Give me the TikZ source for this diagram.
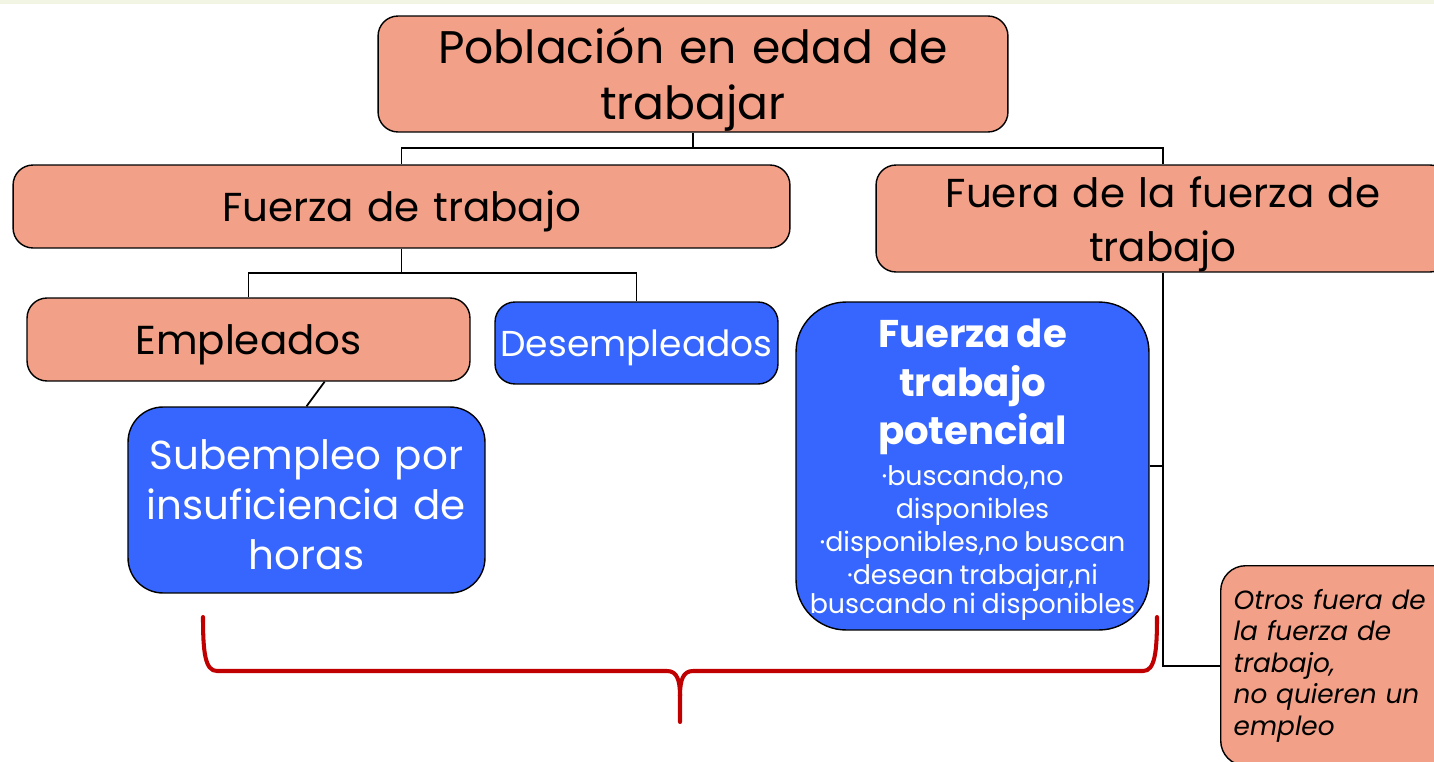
\documentclass[tikz,border=0pt]{standalone}
\usepackage{fontspec}
\setmainfont{Poppins}
\usepackage{tikz}
\definecolor{salmon}{HTML}{F2A087}
\definecolor{azul}{HTML}{3666FE}
\definecolor{rojo}{HTML}{C00000}
\definecolor{franja}{HTML}{F2F4E4}

\begin{document}
\begin{tikzpicture}[x=0.02cm,y=-0.02cm,
  caja/.style={draw=black, line width=0.8pt, rounded corners=0.4cm, inner sep=0pt, align=center},
  cajasalmon/.style={caja, fill=salmon, text=black},
  cajaazul/.style={caja, fill=azul, text=white},
  bajar/.style={execute at end node={\endgraf\vspace{-#1}}},
  linea/.style={line width=1pt},
  llave/.style={draw=rojo, line width=2.3pt, line cap=round}]

% Frame of the picture
\clip (0,0) rectangle (1434,761);
\fill[franja] (0,0) rectangle (1434,4);

% Top box
\node[cajasalmon, bajar=6pt, minimum width=12.6cm, minimum height=2.32cm, text width=12.4cm,
  font=\fontsize{26}{31.5}\selectfont] (pob) at (693,74) {Población en edad de\\trabajar};

% Second level
\node[cajasalmon, bajar=6.5pt, minimum width=15.54cm, minimum height=1.66cm, text width=15cm,
  font=\fontsize{23}{30}\selectfont] (fdt) at (401.5,206.5) {Fuerza de trabajo};
\node[cajasalmon, bajar=6.5pt, minimum width=11.48cm, minimum height=2.14cm, text width=11cm,
  font=\fontsize{23}{30.5}\selectfont] (fuera) at (1163,218.5) {Fuera de la fuerza de\\trabajo};

% Third level
\node[cajasalmon, bajar=6.5pt, minimum width=8.86cm, minimum height=1.66cm, text width=8.5cm,
  font=\fontsize{23}{30}\selectfont] (emp) at (248.5,339.5) {Empleados};
\node[cajaazul, bajar=6.5pt, minimum width=5.66cm, minimum height=1.64cm, text width=5.6cm,
  font=\fontsize{20.5}{28}\selectfont] (desemp) at (636.5,343) {Desempleados};

% Subempleo and potential labour force
\node[cajaazul, bajar=5pt, rounded corners=0.7cm, minimum width=7.14cm, minimum height=3.72cm, text width=7cm,
  font=\fontsize{23}{28.5}\selectfont] (sub) at (306.5,500) {Subempleo por\\insuficiencia de\\horas};
\node[cajaazul, bajar=4.5pt, rounded corners=1cm, minimum width=7.06cm, minimum height=6.56cm, text width=7cm]
  (pot) at (972.5,466)
  {{\fontsize{22}{27.5}\selectfont\bfseries Fuerza de\\trabajo\\potencial\par}\vspace{4.5pt}%
   \fontsize{15.3}{18.8}\selectfont ·buscando,no\\disponibles\\·disponibles,no buscan\\·desean trabajar,ni\\buscando ni disponibles};

% Others outside the labour force
\node[cajasalmon, rounded corners=0.5cm, anchor=north west, minimum width=4.6cm, minimum height=4cm,
  text width=4.3cm, align=left, inner xsep=0.26cm, font=\fontsize{15}{18}\selectfont\itshape]
  (otros) at (1220,565) {Otros fuera de\\la fuerza de\\trabajo,\\no quieren un\\empleo};

% Connectors from the top box
\coordinate (bus) at (693,148);
\draw[linea] (pob.south) -- (bus);
\draw[linea] (bus) -| (fdt.north);
\draw[linea] (bus) -| (fuera.north);

% Connectors under Fuerza de trabajo
\coordinate (bus2) at (fdt.south |- 0,273);
\draw[linea] (fdt.south) -- (bus2);
\draw[linea] (bus2) -| (emp.north);
\draw[linea] (bus2) -| (desemp.north);
\draw[linea] (emp.-29) -- (sub.north);

% Connectors under Fuera de la fuerza de trabajo
\draw[linea] (fuera.south) |- (otros.west);
\draw[linea] (pot.east) -- (pot.east -| fuera.south);

% Red brace
\coordinate (llaveI) at (203,617);
\coordinate (llaveM) at (680,722);
\coordinate (llaveD) at (1157,617);
\draw[llave] (llaveI) .. controls (203,652) and (205,671) .. (217,671) -- (667,671)
  .. controls (677,671) and (680,680) .. (680,696) -- (llaveM);
\draw[llave] (llaveD) .. controls (1157,652) and (1155,671) .. (1143,671) -- (693,671)
  .. controls (683,671) and (680,680) .. (680,696);

\end{tikzpicture}
\end{document}
